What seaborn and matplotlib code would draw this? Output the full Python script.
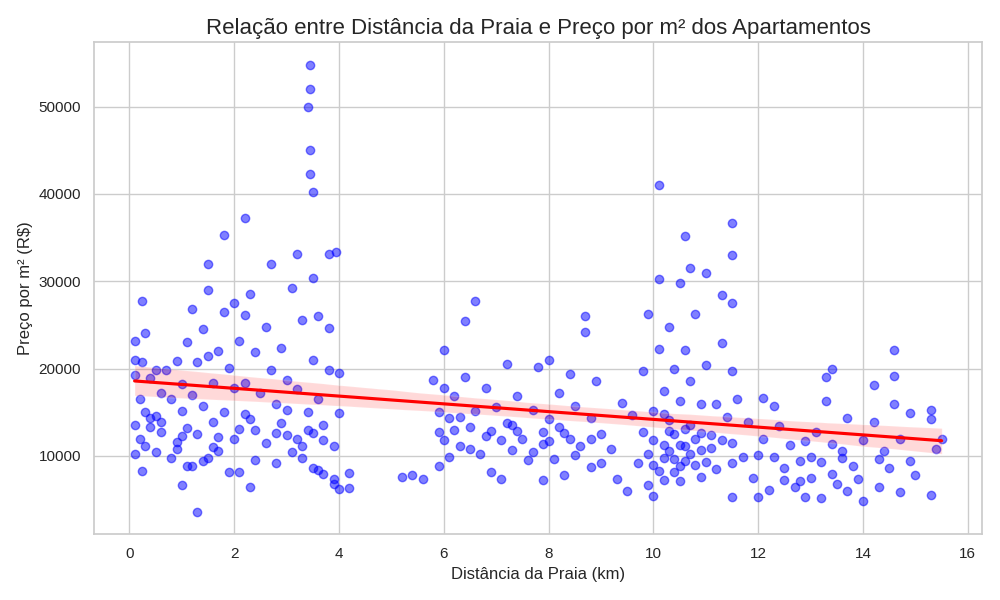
import seaborn as sns
import matplotlib.pyplot as plt
import pandas as pd

# (distância km, preço por m²)
pontos = [
    (0.1,19300),(0.1,13500),(0.1,10200),(0.1,21000),(0.1,23200),(0.2,16500),(0.2,12000),(0.25,27800),(0.25,20800),(0.25,8300),
    (0.3,24100),(0.3,15000),(0.4,13300),(0.4,18900),(0.5,19800),(0.5,10500),(0.5,14600),(0.6,12700),(0.6,17200),(0.7,19900),
    (0.8,16500),(0.8,9800),(0.9,11600),(0.9,20900),(1.0,6700),(1.0,15200),(1.0,18200),(1.1,13200),(1.1,23000),(1.2,26800),
    (1.2,8900),(1.2,17000),(1.3,3600),(1.3,20800),(1.3,12500),(1.4,24500),(1.4,15700),(1.5,32000),(1.5,9800),(1.5,29000),
    (1.5,21500),(1.6,18300),(1.6,13900),(1.7,22000),(1.7,10600),(1.8,35300),(1.8,26500),(1.8,15000),(1.9,20100),(1.9,8200),
    (2.0,17800),(2.0,27500),(2.1,13100),(2.1,23200),(2.1,8200),(2.2,37300),(2.2,26100),(2.2,18300),(2.3,28500),(2.3,6400),
    (2.3,14200),(2.4,21900),(2.4,9500),(2.5,17200),(2.6,11500),(2.6,24800),(2.7,32000),(2.7,19900),(2.8,16000),(2.8,9200),
    (2.9,22400),(2.9,13800),(3.0,18700),(3.0,12400),(3.1,29200),(3.1,10500),(3.2,33100),(3.2,17700),(3.3,11200),(3.3,25600),
    (3.4,15000),(3.4,50000),(3.45,54800),(3.45,52000),(3.45,45000),(3.45,42300),(3.5,40200),(3.5,30400),(3.5,21000),(3.5,12600),
    (3.5,8600),(3.6,16500),(3.6,26000),(3.7,13600),(3.7,7900),(3.8,33100),(3.8,24700),(3.8,19800),(3.9,6800),(3.9,11100),
    (3.95,33300),(4.0,19500),(4.0,6200),(4.0,14900),(4.2,8000),(4.2,6300),
    (0.3,11200),(0.6,13900),(0.9,10800),(1.1,8800),(1.4,9400),(1.7,12200),(2.0,11900),(2.4,13000),(2.8,12600),(3.2,12000),
    (3.3,9800),(3.6,8400),(3.7,11800),(3.9,7400),(1.0,12300),(2.2,14800),(3.0,15300),(0.4,14300),(1.6,11000),(3.4,13000),
    (5.2,7600),(5.4,7800),(5.6,7400),(5.8,18700),(5.9,8800),(5.9,12800),(5.9,15000),
    (6.0,22100),(6.0,17800),(6.0,11800),(6.1,14300),(6.1,9900),(6.2,16900),(6.3,11200),(6.4,25500),(6.4,19000),(6.5,13300),
    (6.6,27700),(6.6,15200),(6.7,10200),(6.8,17800),(6.9,12900),(6.9,8200),(7.0,15600),(7.1,7400),(7.2,13800),(7.2,20500),
    (7.3,10700),(7.4,16900),(7.5,12000),(7.6,9500),(7.7,15300),(7.8,20200),(7.9,11400),(7.9,7200),(8.0,21000),(8.0,14200),
    (8.1,9600),(8.2,17200),(8.3,12600),(8.3,7800),(8.4,19400),(8.5,15700),(8.6,11100),(8.7,24200),(8.7,26000),(8.8,14400),
    (8.8,8700),(8.9,18600),(9.0,12500),(9.2,10800),(9.3,7400),(9.4,16100),(9.5,6000),(9.6,14700),(9.7,9200),
    (6.2,13000),(6.5,10800),(6.8,12300),(7.1,11800),(7.4,12900),(7.7,10400),(8.0,11700),(8.2,13300),(8.5,10100),(8.8,12000),
    (9.0,9200),(7.3,13600),(7.9,12800),(8.4,11900),(6.3,14500),
    (9.8,19700),(9.8,12700),(9.9,6700),(9.9,26300),(10.0,15100),(10.0,9000),(10.0,5400),(10.1,41000),(10.1,22300),(10.1,30300),
    (10.2,17400),(10.2,11300),(10.2,7200),(10.3,24800),(10.3,14100),(10.4,20000),(10.4,9700),(10.4,12500),(10.5,29800),(10.5,16300),
    (10.5,7100),(10.6,35200),(10.6,22100),(10.6,11100),(10.7,31500),(10.7,18600),(10.7,13600),(10.8,9000),(10.8,26300),(10.9,15900),
    (10.9,7600),(11.0,31000),(11.0,20400),(11.1,12400),(11.2,16000),(11.2,8500),(11.3,28400),(11.3,22900),(11.4,14500),(11.5,36700),
    (11.5,33000),(11.5,27500),(11.5,19700),(11.5,11500),(11.5,5300),(11.6,16500),(11.7,9900),(11.8,13900),(11.9,7500),(12.0,10100),
    (12.0,5300),
    (9.9,10200),(10.0,11800),(10.1,8300),(10.2,9800),(10.3,10600),(10.4,8200),(10.5,11300),(10.6,9400),(10.7,10200),(10.8,12000),
    (10.9,10700),(11.0,9300),(11.1,10900),(11.3,11800),(11.5,9200),(10.3,12900),(10.6,13100),(10.9,12600),(10.2,14800),(10.5,8800),
    (12.1,16600),(12.1,12000),(12.2,6100),(12.3,15700),(12.3,9900),(12.4,13400),(12.5,7300),(12.6,11300),(12.7,6400),(12.8,9400),
    (12.9,11700),(12.9,5300),(13.0,7500),(13.1,12700),(13.2,5200),(13.2,9300),(13.3,16300),(13.3,19000),(13.4,20000),(13.4,11400),
    (13.5,6800),(13.6,9800),(13.7,14400),(13.7,6000),(13.9,7400),(14.0,11800),(14.0,4800),(14.2,18100),(14.2,13900),(14.3,6500),
    (14.4,10600),(14.5,8600),(14.6,22100),(14.6,16000),(14.6,19200),(14.7,12000),(14.7,5900),(14.9,14900),(14.9,9400),(15.3,15300),
    (15.3,14200),(15.3,5500),(15.4,10800),(15.5,11900),
    (12.5,8600),(13.0,9900),(13.4,7900),(13.8,8900),(14.3,9700),(15.0,7800),(12.8,7100),(13.6,10600),
]

df = pd.DataFrame(pontos, columns=["distancia", "preco_m2"])

sns.set_theme(style="whitegrid")
plt.rcParams["font.family"] = ["Liberation Sans", "DejaVu Sans"]
plt.figure(figsize=(10, 6), dpi=100)
sns.regplot(data=df, x="distancia", y="preco_m2",
            scatter_kws={"alpha": 0.5, "color": "blue"},
            line_kws={"color": "red"})
plt.title("Relação entre Distância da Praia e Preço por m² dos Apartamentos", fontsize=16)
plt.xlabel("Distância da Praia (km)")
plt.ylabel("Preço por m² (R$)")
plt.tight_layout()
plt.savefig("out.png")
